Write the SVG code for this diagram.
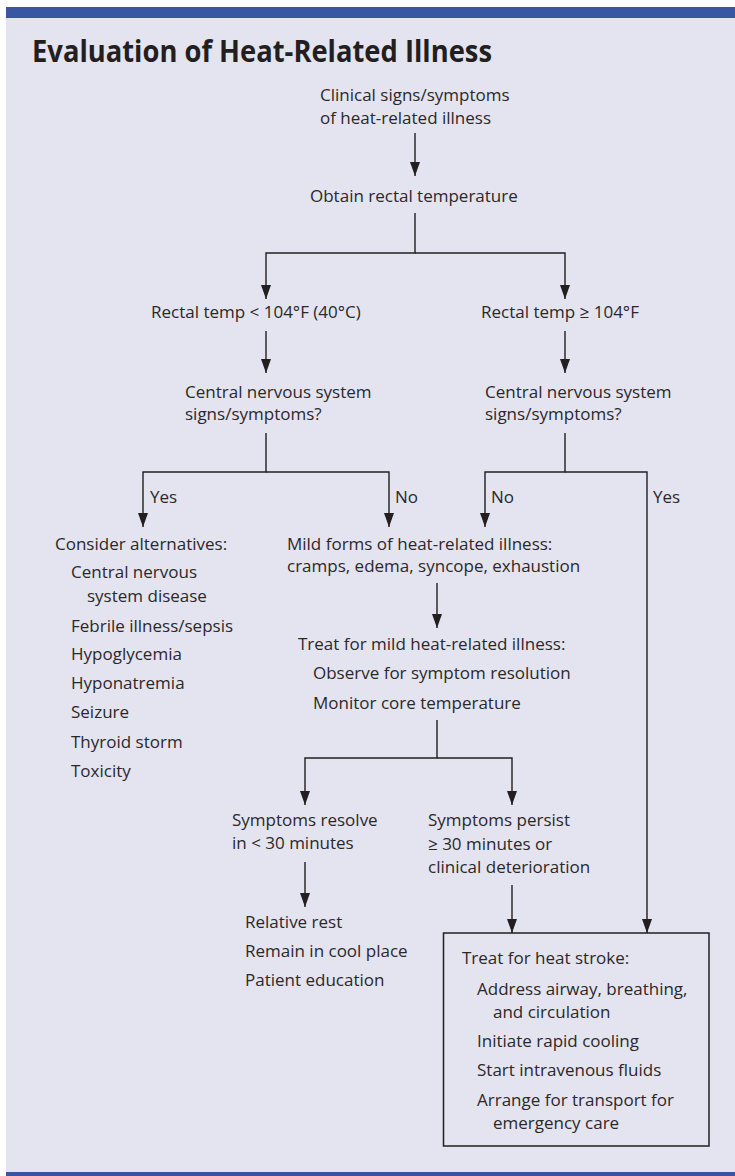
<svg xmlns="http://www.w3.org/2000/svg" width="735" height="1176" viewBox="0 0 735 1176">
<style>
.t{font-family:"Open Sans","Noto Sans",sans-serif;font-size:17px;fill:#2b2829;}
.ttl{font-family:"Open Sans","Noto Sans",sans-serif;font-size:31px;font-weight:700;fill:#231f20;}
.c{fill:none;stroke:#231f20;stroke-width:1.4;marker-end:url(#ah);}
</style>
<defs>
<marker id="ah" markerUnits="userSpaceOnUse" markerWidth="14" markerHeight="10" refX="14" refY="5" orient="auto">
<path d="M0,0 L14,5 L0,10 z" fill="#231f20"/>
</marker>
</defs>
<rect x="0" y="0" width="735" height="1176" fill="#ffffff"/>
<rect x="6" y="18" width="729" height="1155" fill="#e4e4f0"/>
<rect x="6" y="7" width="729" height="11" fill="#3a55a1"/>
<rect x="6" y="1172" width="729" height="4" fill="#3a55a1"/>
<text class="ttl" x="32" y="62" textLength="460" lengthAdjust="spacingAndGlyphs">Evaluation of Heat-Related Illness</text>

<g id="connectors">
<path class="c" d="M415,133 V176"/>
<path class="c" d="M415,213 V253 H266 V299"/>
<path class="c" d="M415,253 H565 V299"/>
<path class="c" d="M266,331 V373"/>
<path class="c" d="M565,331 V373"/>
<path class="c" d="M266,433 V472 H143 V527"/>
<path class="c" d="M266,472 H389 V527"/>
<path class="c" d="M565,433 V472 H485 V527"/>
<path class="c" d="M565,472 H647 V933"/>
<path class="c" d="M437,583 V628"/>
<path class="c" d="M437,720 V758 H305 V805"/>
<path class="c" d="M437,758 H512 V805"/>
<path class="c" d="M305,862 V907"/>
<path class="c" d="M512,885 V933"/>
<text class="t" x="150" y="503">Yes</text>
<text class="t" x="395" y="503">No</text>
<text class="t" x="491" y="503">No</text>
<text class="t" x="653" y="503">Yes</text>
</g>

<g id="n-start">
<text class="t" x="320" y="101">Clinical signs/symptoms</text>
<text class="t" x="320" y="124">of heat-related illness</text>
</g>
<g id="n-rectal">
<text class="t" x="310" y="202">Obtain rectal temperature</text>
</g>
<g id="n-low">
<text class="t" x="151" y="318">Rectal temp &lt; 104°F (40°C)</text>
</g>
<g id="n-high">
<text class="t" x="481" y="318">Rectal temp ≥ 104°F</text>
</g>
<g id="n-cns-left">
<text class="t" x="185" y="398">Central nervous system</text>
<text class="t" x="185" y="420">signs/symptoms?</text>
</g>
<g id="n-cns-right">
<text class="t" x="485" y="398">Central nervous system</text>
<text class="t" x="485" y="420">signs/symptoms?</text>
</g>
<g id="n-alternatives">
<text class="t" x="55" y="550">Consider alternatives:</text>
<text class="t" x="71" y="578">Central nervous</text>
<text class="t" x="87" y="602">system disease</text>
<text class="t" x="71" y="632">Febrile illness/sepsis</text>
<text class="t" x="71" y="660">Hypoglycemia</text>
<text class="t" x="71" y="689">Hyponatremia</text>
<text class="t" x="71" y="718">Seizure</text>
<text class="t" x="71" y="748">Thyroid storm</text>
<text class="t" x="71" y="777">Toxicity</text>
</g>
<g id="n-mild">
<text class="t" x="287" y="550">Mild forms of heat-related illness:</text>
<text class="t" x="287" y="572">cramps, edema, syncope, exhaustion</text>
</g>
<g id="n-treat-mild">
<text class="t" x="298" y="650">Treat for mild heat-related illness:</text>
<text class="t" x="313" y="679">Observe for symptom resolution</text>
<text class="t" x="313" y="709">Monitor core temperature</text>
</g>
<g id="n-resolve">
<text class="t" x="232" y="826">Symptoms resolve</text>
<text class="t" x="232" y="849">in &lt; 30 minutes</text>
</g>
<g id="n-persist">
<text class="t" x="428" y="826">Symptoms persist</text>
<text class="t" x="428" y="850">≥ 30 minutes or</text>
<text class="t" x="428" y="873">clinical deterioration</text>
</g>
<g id="n-rest">
<text class="t" x="245" y="928">Relative rest</text>
<text class="t" x="245" y="957">Remain in cool place</text>
<text class="t" x="245" y="986">Patient education</text>
</g>
<g id="n-heatstroke">
<rect x="443.5" y="933" width="265.5" height="213" fill="none" stroke="#231f20" stroke-width="1.5"/>
<text class="t" x="462" y="964">Treat for heat stroke:</text>
<text class="t" x="477" y="995">Address airway, breathing,</text>
<text class="t" x="493" y="1018">and circulation</text>
<text class="t" x="477" y="1047">Initiate rapid cooling</text>
<text class="t" x="477" y="1076">Start intravenous fluids</text>
<text class="t" x="477" y="1106">Arrange for transport for</text>
<text class="t" x="493" y="1129">emergency care</text>
</g>
</svg>
